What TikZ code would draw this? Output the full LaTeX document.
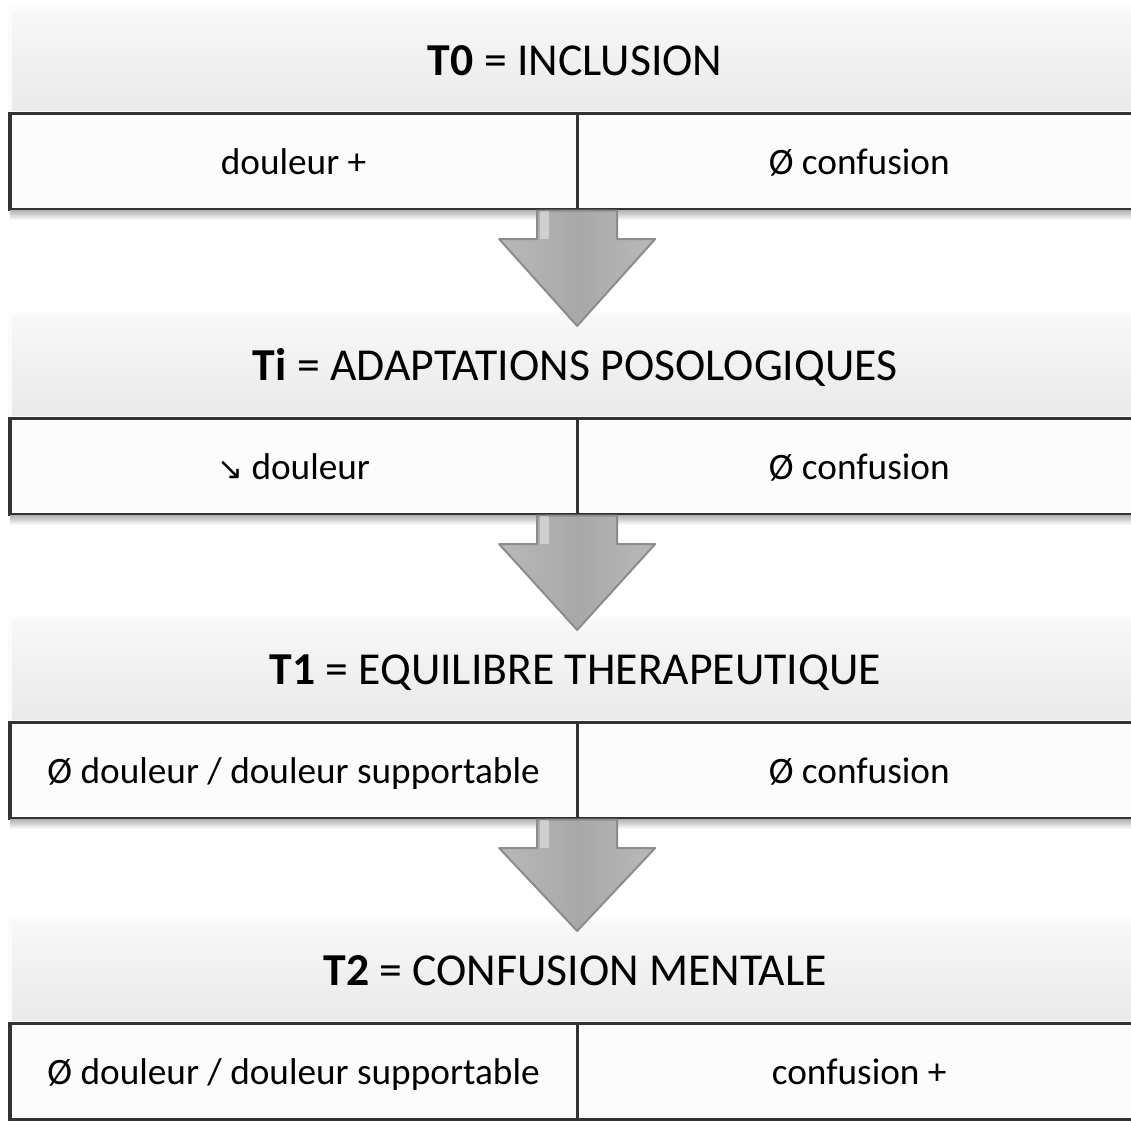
\documentclass[tikz,border=0pt]{standalone}
\usepackage{fontspec}
\setmainfont{Carlito}
\newfontfamily\symbfont{DejaVu Sans}
\usepackage{tikz}
\usetikzlibrary{positioning, calc}

\definecolor{framegray}{HTML}{333333}
\definecolor{headtop}{HTML}{F8F8F8}
\definecolor{headbot}{HTML}{E9E9E9}
\definecolor{headrim}{HTML}{FBFBFB}
\definecolor{cellfill}{HTML}{FCFCFC}
\definecolor{shadowgray}{HTML}{B4B4B4}
\definecolor{arrowlight}{HTML}{B9B9B9}
\definecolor{arrowmid}{HTML}{A8A8A8}
\definecolor{arrowedge}{HTML}{8C8C8C}

\newcommand{\stagearrow}[2]{%
	\draw[stagearr] ($(#1.south east)+(-40,1.5)$) -- ($(#1.south east)+(-40,30)$) -- ($(#1.south east)+(-78,30)$)
		-- ($(#1.south east |- #2.north)+(0,12)$)
		-- ($(#1.south east)+(78,30)$) -- ($(#1.south east)+(40,30)$) -- ($(#1.south east)+(40,1.5)$) -- cycle;
	\fill[white, opacity=0.4] ($(#1.south east)+(-37,1.5)$) rectangle ($(#1.south east)+(-28,30)$);}

\begin{document}
\begin{tikzpicture}[x=0.025cm, y=-0.025cm,
			header/.style={anchor=south west, minimum width=28.25cm, minimum height=2.6cm,
				inner sep=0pt, outer sep=0pt, top color=headtop, bottom color=headbot,
				draw=headrim, line width=0.1cm, text height=20.9pt, text depth=0pt,
				font=\fontsize{32.5}{38}\selectfont},
			cell/.style={anchor=north west, minimum height=2.4cm, inner sep=0pt, outer sep=0pt,
				draw=framegray, line width=0.075cm, fill=cellfill, text height=18.6pt, text depth=0pt,
				font=\fontsize{26.5}{31}\selectfont},
			leftcell/.style={cell, minimum width=14.175cm},
			rightcell/.style={cell, minimum width=14.1cm},
			stagearr/.style={left color=arrowlight, right color=arrowlight, middle color=arrowmid,
				draw=arrowedge, line width=0.05cm, line join=round},
			shadowbar/.style={top color=shadowgray, bottom color=white}]

			\useasboundingbox (0,0) rectangle (1131,1120);
			\clip (0,0) rectangle (1131,1120);

			% T0
			\node[header] (h1) at (10,113) {\textbf{T0} = INCLUSION};
			\node[leftcell] (l1) at (10,113) {douleur +};
			\node[rightcell, right=0pt of l1] (r1) {Ø confusion};
			\fill[shadowbar] ($(l1.south west)+(0,1.5)$) rectangle ($(r1.south east)+(0,11)$);

			% Ti
			\node[header] (h2) at (10,418) {\textbf{Ti} = ADAPTATIONS POSOLOGIQUES};
			\node[leftcell] (l2) at (10,418) {{\symbfont\fontsize{22}{26}\selectfont ↘} douleur};
			\node[rightcell, right=0pt of l2] (r2) {Ø confusion};
			\fill[shadowbar] ($(l2.south west)+(0,1.5)$) rectangle ($(r2.south east)+(0,11)$);

			% T1
			\node[header] (h3) at (10,722) {\textbf{T1} = EQUILIBRE THERAPEUTIQUE};
			\node[leftcell] (l3) at (10,722) {Ø douleur / douleur supportable};
			\node[rightcell, right=0pt of l3] (r3) {Ø confusion};
			\fill[shadowbar] ($(l3.south west)+(0,1.5)$) rectangle ($(r3.south east)+(0,11)$);

			% T2
			\node[header] (h4) at (10,1023) {\textbf{T2} = CONFUSION MENTALE};
			\node[leftcell] (l4) at (10,1023) {Ø douleur / douleur supportable};
			\node[rightcell, right=0pt of l4] (r4) {confusion +};

			\stagearrow{l1}{h2}
			\stagearrow{l2}{h3}
			\stagearrow{l3}{h4}
		\end{tikzpicture}
\end{document}
